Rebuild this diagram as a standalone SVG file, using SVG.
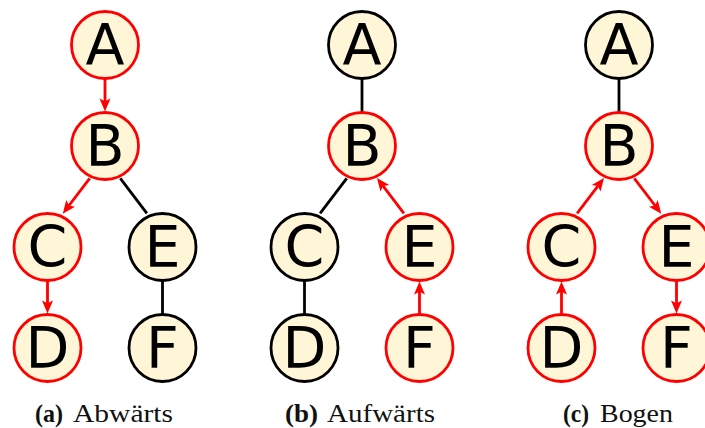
<svg xmlns="http://www.w3.org/2000/svg" width="705" height="428" viewBox="0 0 705 428">
  <style>
    .node circle { fill: #fff5d7; stroke-width: 2.8; }
    .node.red circle { stroke: #ff0000; }
    .node.blk circle { stroke: #000000; }
    .node text { font-family: "DejaVu Sans", sans-serif; font-size: 57px; text-anchor: middle; fill: #000; }
    .edge { fill: none; stroke-width: 2.8; }
    .edge.red { stroke: #ff0000; }
    .edge.blk { stroke: #000000; }
    .arrow { marker-end: url(#head); }
    .cap { font-family: "Liberation Serif", "Times New Roman", serif; font-size: 25px; fill: #111; }
    .cap.b { font-weight: bold; }
  </style>
  <defs>
    <marker id="head" markerUnits="userSpaceOnUse" orient="auto" refX="0" refY="0"
            markerWidth="20" markerHeight="20" overflow="visible">
      <path d="M6.5,0 L-6.5,-5.5 L-3.8,0 L-6.5,5.5 Z" fill="#ff0000"/>
    </marker>
  </defs>

  <!-- connectors -->
  <g id="connectors">
    <!-- (a) Abwärts -->
    <line class="edge red arrow" x1="105" y1="79" x2="105" y2="105"/>
    <line class="edge red arrow" x1="89.7" y1="178.3" x2="66.7" y2="208.5"/>
    <line class="edge blk" x1="120.3" y1="178.3" x2="146.9" y2="213.3"/>
    <line class="edge red arrow" x1="47.5" y1="281" x2="47.5" y2="307"/>
    <line class="edge blk" x1="162.5" y1="281" x2="162.5" y2="314"/>

    <!-- (b) Aufwärts -->
    <line class="edge blk" x1="362" y1="79" x2="362" y2="112"/>
    <line class="edge blk" x1="346.7" y1="178.3" x2="320.1" y2="213.3"/>
    <line class="edge red arrow" x1="403.9" y1="213.3" x2="380.9" y2="183.1"/>
    <line class="edge blk" x1="304.5" y1="281" x2="304.5" y2="314"/>
    <line class="edge red arrow" x1="419.5" y1="314" x2="419.5" y2="288"/>

    <!-- (c) Bogen -->
    <line class="edge blk" x1="619" y1="79" x2="619" y2="112"/>
    <line class="edge red arrow" x1="577.1" y1="213.3" x2="600.1" y2="183.1"/>
    <line class="edge red arrow" x1="634.3" y1="178.3" x2="657.3" y2="208.5"/>
    <line class="edge red arrow" x1="561.5" y1="314" x2="561.5" y2="288"/>
    <line class="edge red arrow" x1="676.5" y1="281" x2="676.5" y2="307"/>
  </g>

  <!-- tree (a) -->
  <g id="a-A" class="node red"><circle cx="105" cy="45" r="33.5"/><text x="105" y="65">A</text></g>
  <g id="a-B" class="node red"><circle cx="105" cy="146" r="33.5"/><text x="105" y="166">B</text></g>
  <g id="a-C" class="node red"><circle cx="47.5" cy="247" r="33.5"/><text x="47.5" y="267">C</text></g>
  <g id="a-D" class="node red"><circle cx="47.5" cy="348" r="33.5"/><text x="47.5" y="368">D</text></g>
  <g id="a-E" class="node blk"><circle cx="162.5" cy="247" r="33.5"/><text x="162.5" y="267">E</text></g>
  <g id="a-F" class="node blk"><circle cx="162.5" cy="348" r="33.5"/><text x="162.5" y="368">F</text></g>

  <!-- tree (b) -->
  <g id="b-A" class="node blk"><circle cx="362" cy="45" r="33.5"/><text x="362" y="65">A</text></g>
  <g id="b-B" class="node red"><circle cx="362" cy="146" r="33.5"/><text x="362" y="166">B</text></g>
  <g id="b-C" class="node blk"><circle cx="304.5" cy="247" r="33.5"/><text x="304.5" y="267">C</text></g>
  <g id="b-D" class="node blk"><circle cx="304.5" cy="348" r="33.5"/><text x="304.5" y="368">D</text></g>
  <g id="b-E" class="node red"><circle cx="419.5" cy="247" r="33.5"/><text x="419.5" y="267">E</text></g>
  <g id="b-F" class="node red"><circle cx="419.5" cy="348" r="33.5"/><text x="419.5" y="368">F</text></g>

  <!-- tree (c) -->
  <g id="c-A" class="node blk"><circle cx="619" cy="45" r="33.5"/><text x="619" y="65">A</text></g>
  <g id="c-B" class="node red"><circle cx="619" cy="146" r="33.5"/><text x="619" y="166">B</text></g>
  <g id="c-C" class="node red"><circle cx="561.5" cy="247" r="33.5"/><text x="561.5" y="267">C</text></g>
  <g id="c-D" class="node red"><circle cx="561.5" cy="348" r="33.5"/><text x="561.5" y="368">D</text></g>
  <g id="c-E" class="node red"><circle cx="676.5" cy="247" r="33.5"/><text x="676.5" y="267">E</text></g>
  <g id="c-F" class="node red"><circle cx="676.5" cy="348" r="33.5"/><text x="676.5" y="368">F</text></g>

  <!-- sub-captions -->
  <g id="captions">
    <text class="cap b" x="35" y="422" textLength="28" lengthAdjust="spacingAndGlyphs">(a)</text>
    <text class="cap" x="73" y="422" textLength="100" lengthAdjust="spacingAndGlyphs">Abwärts</text>
    <text class="cap b" x="285" y="422" textLength="33" lengthAdjust="spacingAndGlyphs">(b)</text>
    <text class="cap" x="327" y="422" textLength="108" lengthAdjust="spacingAndGlyphs">Aufwärts</text>
    <text class="cap b" x="563" y="422" textLength="26" lengthAdjust="spacingAndGlyphs">(c)</text>
    <text class="cap" x="600" y="422" textLength="73" lengthAdjust="spacingAndGlyphs">Bogen</text>
  </g>
</svg>
